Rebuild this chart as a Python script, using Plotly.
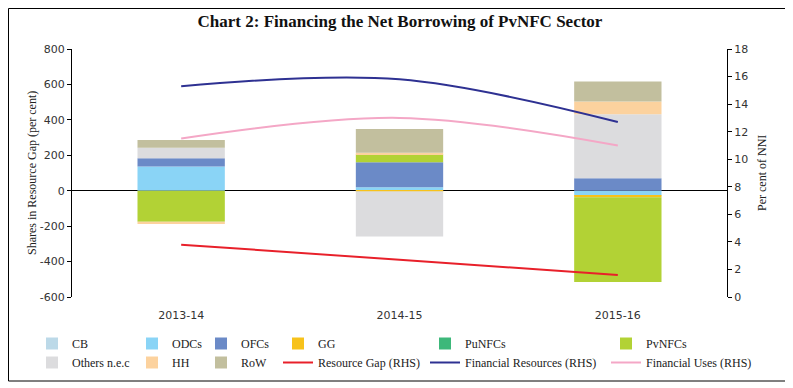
import plotly.graph_objects as go

years = ["2013-14", "2014-15", "2015-16"]

CB = [0, 0, 0]
ODCs = [136, 19, -28]
OFCs = [47, 141, 70]
GG = [0, -3, -9]
PuNFCs = [0, 0, 0]
PvNFCs = [-175, 44, -478]
Others = [60, -255, 362]
HH = [-13, 10, 71]
RoW = [43, 135, 113]

resource_gap = [3.8, 2.7, 1.6]
fin_resources = [15.3, 15.8, 12.7]
fin_uses = [11.5, 13.0, 11.0]

left_ticks = [-600, -400, -200, 0, 200, 400, 600, 800]
left_tick_labels = ["-600", "-400", "-200", "0", "200", "400", "600", "800"]

bar_series = [
    ("CB", CB, "#BCD9E8", "legend"),
    ("ODCs", ODCs, "#8AD4F6", "legend2"),
    ("OFCs", OFCs, "#6B8AC7", "legend3"),
    ("GG", GG, "#F7C21B", "legend4"),
    ("PuNFCs", PuNFCs, "#3DB87A", "legend5"),
    ("PvNFCs", PvNFCs, "#B2D235", "legend6"),
    ("Others n.e.c", Others, "#DCDCDE", "legend"),
    ("HH", HH, "#FCD29E", "legend2"),
    ("RoW", RoW, "#C2BF9E", "legend3"),
]
line_series = [
    ("Resource Gap (RHS)", resource_gap, "#E8202A", "legend4"),
    ("Financial Resources (RHS)", fin_resources, "#2E3192", "legend5"),
    ("Financial Uses (RHS)", fin_uses, "#F4A7C6", "legend6"),
]

fig = go.Figure()
for name, vals, col, lg in bar_series:
    fig.add_trace(go.Bar(x=years, y=vals, name=name, marker_color=col,
                         marker_line_width=0, legend=lg, yaxis="y"))
for name, vals, col, lg in line_series:
    fig.add_trace(go.Scatter(x=years, y=vals, name=name, mode="lines",
                             line=dict(color=col, width=2, shape="spline"),
                             legend=lg, yaxis="y2"))

# page has an 8px body margin; work in figure coordinates
OFF = 8
W, H = 793 - OFF, 388 - OFF
L, R, T, B = 72 - OFF, 66, 49 - OFF, 91
pw, ph = W - L - R, H - T - B

def px(x):  # x given in page pixels
    return (x - OFF - L) / pw

def py(y):
    return (H - B - (y - OFF)) / ph

serif = "Liberation Serif"
sans = "DejaVu Sans"

leg_common = dict(orientation="v", tracegroupgap=0, itemwidth=30,
                  font=dict(family=serif, size=12, color="#222"),
                  bgcolor="rgba(0,0,0,0)", xref="container", yref="container",
                  xanchor="left", yanchor="top", traceorder="normal")
text_x = [72, 172, 241, 318, 465, 646]
legends = {}
for i, tx in enumerate(text_x):
    key = "legend" if i == 0 else f"legend{i+1}"
    legends[key] = dict(leg_common, x=(tx - OFF - 40) / W, y=(H - 321) / H)

fig.update_layout(
    width=W, height=H,
    margin=dict(l=L, r=R, t=T, b=B, autoexpand=False),
    paper_bgcolor="white", plot_bgcolor="white",
    barmode="relative", bargap=0.6,
    title=dict(text="<b>Chart 2: Financing the Net Borrowing of PvNFC Sector</b>",
               font=dict(family=serif, size=17, color="#111"),
               x=(400 - OFF) / W, xanchor="center", xref="container",
               y=(H - (21 - OFF)) / H, yanchor="middle", yref="container"),
    xaxis=dict(showline=False, showgrid=False, ticks="outside", ticklen=8,
               tickcolor="rgba(0,0,0,0)",
               tickfont=dict(family=sans, size=11, color="#333")),
    yaxis=dict(range=[-600, 800], tickmode="array", tickvals=left_ticks,
               ticktext=left_tick_labels, showgrid=False,
               showline=True, linecolor="black", linewidth=1,
               ticks="outside", ticklen=4, tickcolor="black",
               zeroline=True, zerolinecolor="black", zerolinewidth=1,
               tickfont=dict(family=sans, size=11, color="#333")),
    yaxis2=dict(range=[0, 18], dtick=2, overlaying="y", side="right",
                showgrid=False, zeroline=False,
                showline=True, linecolor="black", linewidth=1,
                ticks="outside", ticklen=4, tickcolor="black",
                tickfont=dict(family=sans, size=11, color="#333")),
    annotations=[
        dict(text="Shares in Resource Gap (per cent)", xref="paper", yref="paper",
             x=px(32), y=py(173), textangle=-90, showarrow=False,
             xanchor="center", yanchor="middle",
             font=dict(family=serif, size=12, color="#222")),
        dict(text="Per cent of NNI", xref="paper", yref="paper",
             x=px(762), y=py(173), textangle=-90, showarrow=False,
             xanchor="center", yanchor="middle",
             font=dict(family=serif, size=12, color="#222")),
    ],
    shapes=[dict(type="rect", xref="paper", yref="paper",
                 x0=px(OFF + 0.5), x1=px(787), y0=py(381), y1=py(OFF + 0.5),
                 line=dict(color="black", width=1))],
    **legends,
)

fig.write_html("out.html")
